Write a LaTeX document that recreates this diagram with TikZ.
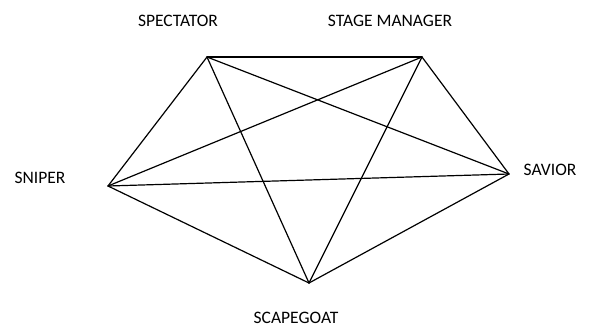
\documentclass[tikz,border=0pt]{standalone}
\usepackage{fontspec}
\setmainfont{Carlito}
\begin{document}
\begin{tikzpicture}[x=1pt,y=-1pt,
  edge/.style={line width=1.2pt, line join=round, line cap=round},
  lbl/.style={font=\fontsize{17.5}{20}\selectfont, inner sep=0pt, anchor=center}]
\useasboundingbox (0,0) rectangle (591,327);
\coordinate (spe) at (207,57);
\coordinate (stm) at (422,57);
\coordinate (sav) at (509,174);
\coordinate (scg) at (309,283);
\coordinate (snp) at (108,186);
\node[lbl] (lspe) at (178,21) {SPECTATOR};
\node[lbl] (lstm) at (390,21) {STAGE MANAGER};
\node[lbl] (lsnp) at (40,178) {SNIPER};
\node[lbl] (lsav) at (550,170) {SAVIOR};
\node[lbl] (lscg) at (296,318) {SCAPEGOAT};
\draw[edge] (spe) -- (stm);
\draw[edge] (spe) -- (snp);
\draw[edge] (spe) -- (sav);
\draw[edge] (spe) -- (scg);
\draw[edge] (stm) -- (snp);
\draw[edge] (stm) -- (sav);
\draw[edge] (stm) -- (scg);
\draw[edge] (snp) -- (sav);
\draw[edge] (snp) -- (scg);
\draw[edge] (sav) -- (scg);
\end{tikzpicture}
\end{document}
